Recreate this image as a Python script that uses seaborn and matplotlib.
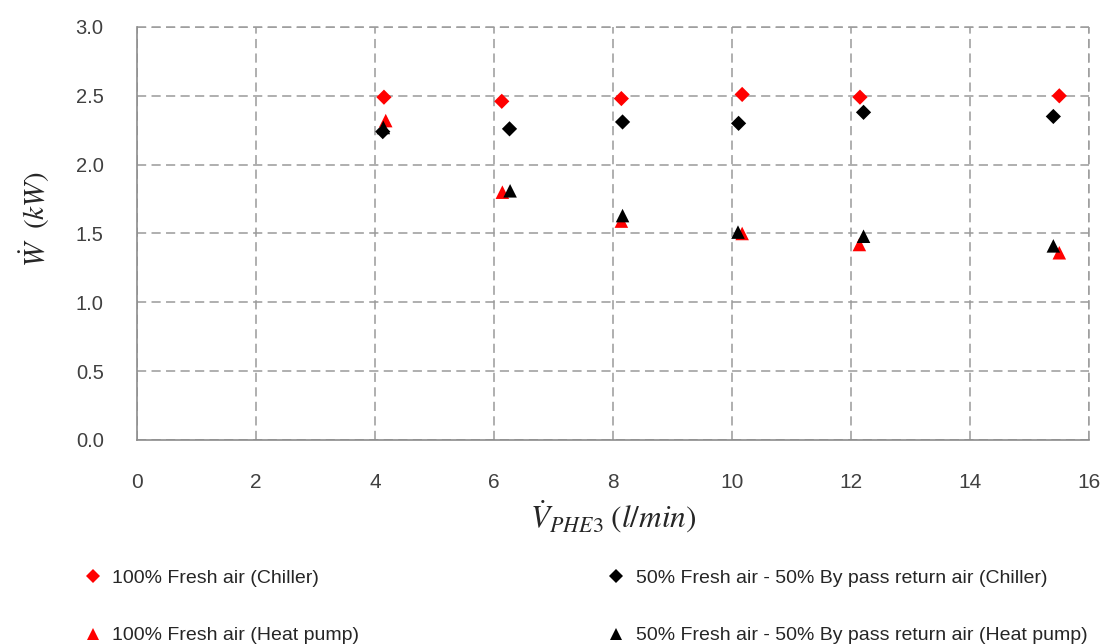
import matplotlib
matplotlib.use("Agg")
import matplotlib.pyplot as plt
from matplotlib.lines import Line2D
import pandas as pd
import seaborn as sns

# Flow rate through PHE3 (l/min) and electrical power (kW) for each operating mode
flow_fresh_chiller = [4.15, 6.13, 8.14, 10.17, 12.15, 15.50]
power_fresh_chiller = [2.49, 2.46, 2.48, 2.51, 2.49, 2.50]

flow_mix_chiller = [4.13, 6.26, 8.16, 10.11, 12.21, 15.40]
power_mix_chiller = [2.24, 2.26, 2.31, 2.30, 2.38, 2.35]

flow_fresh_hp = [4.18, 6.14, 8.14, 10.17, 12.14, 15.50]
power_fresh_hp = [2.32, 1.80, 1.59, 1.50, 1.42, 1.36]

flow_mix_hp = [4.14, 6.27, 8.16, 10.10, 12.21, 15.40]
power_mix_hp = [2.27, 1.81, 1.63, 1.51, 1.48, 1.41]

labels = [
    "100% Fresh air (Chiller)",
    "50% Fresh air - 50% By pass return air (Chiller)",
    "100% Fresh air (Heat pump)",
    "50% Fresh air - 50% By pass return air (Heat pump)",
]

frames = []
for lab, xs, ys in zip(
    labels,
    [flow_fresh_chiller, flow_mix_chiller, flow_fresh_hp, flow_mix_hp],
    [power_fresh_chiller, power_mix_chiller, power_fresh_hp, power_mix_hp],
):
    frames.append(pd.DataFrame({"flow": xs, "power": ys, "mode": lab}))
df = pd.concat(frames, ignore_index=True)

colors = {labels[0]: "#ff0000", labels[1]: "#000000",
          labels[2]: "#ff0000", labels[3]: "#000000"}
markers = {labels[0]: "D", labels[1]: "D", labels[2]: "^", labels[3]: "^"}
sizes = {labels[0]: 60, labels[1]: 60, labels[2]: 95, labels[3]: 95}

sns.set_style("white")
plt.rcParams["font.family"] = ["Liberation Sans", "DejaVu Sans"]
plt.rcParams["mathtext.fontset"] = "stix"

fig = plt.figure(figsize=(11.14, 6.44), dpi=100)
ax = fig.add_axes([0.123, 0.3168, 0.8546, 0.6413])

for lab in labels:
    sns.scatterplot(data=df[df["mode"] == lab], x="flow", y="power",
                    color=colors[lab], marker=markers[lab], s=sizes[lab],
                    edgecolor="none", linewidth=0, ax=ax, zorder=3,
                    legend=False)

ax.set_xlim(0, 16)
ax.set_ylim(0, 3.0)
ax.set_xticks(range(0, 17, 2))
ax.set_yticks([0, 0.5, 1.0, 1.5, 2.0, 2.5, 3.0])
ax.set_yticklabels([f"{v:.1f}" for v in ax.get_yticks()])

grid_kw = dict(color="#9a9a9a", linestyle=(0, (6, 3.5)), linewidth=1.1)
ax.grid(True, **grid_kw)
ax.set_axisbelow(True)
for side in ("top", "right"):
    ax.spines[side].set_visible(False)
for side in ("left", "bottom"):
    ax.spines[side].set_color("#8c8c8c")
    ax.spines[side].set_linewidth(1.2)
# close the frame with dashed lines along the top and right edges
ax.axhline(3.0, **grid_kw, zorder=1, clip_on=False)
ax.axvline(16, **grid_kw, zorder=1, clip_on=False)

ax.tick_params(axis="both", length=0, colors="#404040")
ax.tick_params(axis="y", labelsize=14.5, pad=24)
ax.tick_params(axis="x", labelsize=15, pad=24)

ax.set_xlabel(r"$\dot{V}_{PHE3}\;(l/min)$", fontsize=22.5, labelpad=4)
ax.set_ylabel(r"$\dot{W}\ \ (kW)$", fontsize=21)
ax.yaxis.set_label_coords(-0.089, 0.535)

handles = [
    Line2D([], [], linestyle="none", marker="D", color="#ff0000", markersize=7, markeredgewidth=0),
    Line2D([], [], linestyle="none", marker="^", color="#ff0000", markersize=9, markeredgewidth=0),
    Line2D([], [], linestyle="none", marker="D", color="#000000", markersize=7, markeredgewidth=0),
    Line2D([], [], linestyle="none", marker="^", color="#000000", markersize=9, markeredgewidth=0),
]
leg_labels = [labels[0], labels[2], labels[1], labels[3]]
fig.legend(handles, leg_labels, loc="upper left", bbox_to_anchor=(0.059, 0.143),
           ncol=2, frameon=False, columnspacing=12.7,
           handletextpad=0.5, labelspacing=2.05, handlelength=1.0,
           prop={"family": ["Liberation Sans", "DejaVu Sans"], "size": 14})

fig.savefig("out.png", dpi=100)
